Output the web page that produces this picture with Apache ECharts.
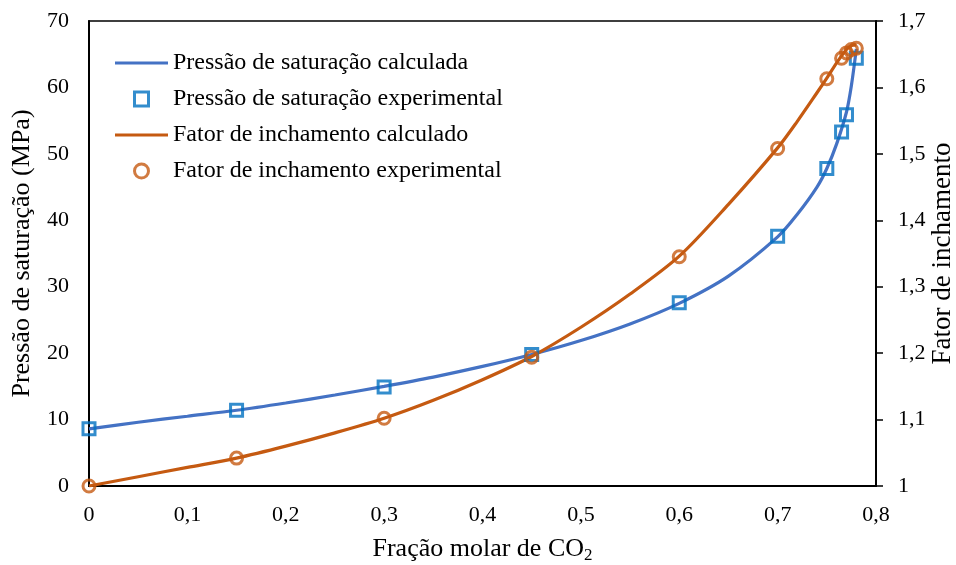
<!DOCTYPE html>
<html>
<head>
<meta charset="utf-8">
<script src="https://cdn.jsdelivr.net/npm/echarts@6/dist/echarts.min.js"></script>
<style>
  html, body { margin: 0; padding: 0; background: #fff; }
  #chart { width: 956px; height: 565px; }
</style>
</head>
<body>
<div id="chart"></div>
<script>
// Experimental points: CO2 mole fraction vs. saturation pressure (MPa)
const expPressureX = [0, 0.15, 0.3, 0.45, 0.6, 0.7, 0.75, 0.765, 0.77, 0.78];
const expPressureY = [8.6, 11.4, 14.9, 19.8, 27.6, 37.6, 47.8, 53.3, 55.9, 64.4];

// Experimental points: CO2 mole fraction vs. swelling factor
const expSwellX = [0, 0.15, 0.3, 0.45, 0.6, 0.7, 0.75, 0.765, 0.77, 0.775, 0.78];
const expSwellY = [1.0, 1.042, 1.102, 1.194, 1.345, 1.508, 1.613, 1.644, 1.652, 1.657, 1.659];

// Calculated curves
const calcPressureX = [0, 0.05, 0.1, 0.15, 0.2, 0.25, 0.3, 0.35, 0.4, 0.45, 0.5, 0.55, 0.6, 0.65, 0.7, 0.72, 0.74, 0.75, 0.76, 0.77, 0.775, 0.78];
const calcPressureY = [8.6, 9.6, 10.5, 11.4, 12.5, 13.7, 15.0, 16.4, 18.0, 19.8, 21.9, 24.4, 27.5, 31.6, 37.5, 40.9, 45.0, 47.8, 51.5, 56.3, 60.3, 65.8];

const calcSwellX = [0, 0.05, 0.1, 0.15, 0.2, 0.25, 0.3, 0.35, 0.4, 0.45, 0.5, 0.55, 0.6, 0.65, 0.7, 0.72, 0.74, 0.75, 0.76, 0.77, 0.775, 0.78];
const calcSwellY = [1.0, 1.014, 1.028, 1.042, 1.06, 1.08, 1.102, 1.129, 1.16, 1.195, 1.239, 1.289, 1.346, 1.424, 1.509, 1.549, 1.592, 1.614, 1.637, 1.657, 1.663, 1.664];

const seriesNames = [
  'Pressão de saturação calculada',
  'Pressão de saturação experimental',
  'Fator de inchamento calculado',
  'Fator de inchamento experimental'
];

const BLUE_LINE = '#4472C4';
const BLUE_MARK = '#0070C0';
const ORANGE = '#C55A11';
const FONT = 'Liberation Serif';

// Legend glyphs: a flat bar for the curves, a hollow square for the points
const LINE_ICON = 'path://M0,0L53,0L53,3L0,3Z';
const SQUARE_ICON = 'path://M0,0L10,0L10,10L0,10Z';

const zip = (xs, ys) => xs.map((x, i) => [x, ys[i]]);
const comma = (v) => {
  const r = Math.round(v * 10) / 10;
  return (Number.isInteger(r) ? String(r) : r.toFixed(1)).replace('.', ',');
};

const chart = echarts.init(document.getElementById('chart'), null, { renderer: 'canvas' });

chart.setOption({
  animation: false,
  backgroundColor: '#fff',
  textStyle: { fontFamily: FONT },
  grid: {
    left: 89, right: 80, top: 21, bottom: 79,
    outerBoundsMode: 'none', containLabel: false,
    show: true, borderColor: '#000', borderWidth: 1.5
  },
  legend: {
    orient: 'vertical',
    left: 115, top: 51, padding: 0,
    itemWidth: 53, itemHeight: 14, itemGap: 12,
    textStyle: { fontFamily: FONT, fontSize: 24, color: '#000' },
    data: [
      { name: seriesNames[0], icon: LINE_ICON, itemStyle: { color: BLUE_LINE, borderWidth: 0 } },
      { name: seriesNames[1], icon: SQUARE_ICON, itemStyle: { borderWidth: 3 } },
      { name: seriesNames[2], icon: LINE_ICON, itemStyle: { color: ORANGE, borderWidth: 0 } },
      { name: seriesNames[3], icon: 'circle', itemStyle: { borderWidth: 3 } }
    ]
  },
  xAxis: {
    type: 'value', min: 0, max: 0.8, interval: 0.1,
    name: '{a|Fração molar de CO}{s|2}',
    nameLocation: 'middle', nameGap: 49,
    nameTextStyle: {
      rich: {
        a: { fontFamily: FONT, fontSize: 26, color: '#000' },
        s: { fontFamily: FONT, fontSize: 17, color: '#000', verticalAlign: 'bottom', padding: [12, 0, 0, 0] }
      }
    },
    axisLine: { show: true, lineStyle: { color: '#000', width: 2 } },
    axisTick: { show: false },
    splitLine: { show: false },
    axisLabel: { formatter: comma, fontFamily: FONT, fontSize: 22, color: '#000', margin: 18 }
  },
  yAxis: [
    {
      type: 'value', min: 0, max: 70, interval: 10, position: 'left',
      name: 'Pressão de saturação (MPa)', nameLocation: 'middle', nameGap: 54,
      nameTextStyle: { fontFamily: FONT, fontSize: 26, color: '#000' },
      axisLine: { show: true, lineStyle: { color: '#000', width: 2 } },
      axisTick: { show: false },
      splitLine: { show: false },
      axisLabel: { fontFamily: FONT, fontSize: 22, color: '#000', margin: 20 }
    },
    {
      type: 'value', min: 1, max: 1.7, interval: 0.1, position: 'right',
      name: 'Fator de inchamento', nameLocation: 'middle', nameGap: 53,
      nameRotate: 90, nameMoveOverlap: false,
      nameTextStyle: { fontFamily: FONT, fontSize: 27, color: '#000' },
      axisLine: { show: true, lineStyle: { color: '#000', width: 2 } },
      axisTick: { show: true, inside: false, length: 7, lineStyle: { color: '#000', width: 1.5 } },
      splitLine: { show: false },
      axisLabel: { formatter: comma, fontFamily: FONT, fontSize: 22, color: '#000', margin: 22 }
    }
  ],
  series: [
    {
      name: seriesNames[0], type: 'line', yAxisIndex: 0,
      data: zip(calcPressureX, calcPressureY),
      smooth: 0.3, symbol: 'none', showSymbol: false,
      lineStyle: { color: BLUE_LINE, width: 3.2 }, itemStyle: { color: BLUE_LINE },
      z: 2
    },
    {
      name: seriesNames[1], type: 'scatter', yAxisIndex: 0,
      data: zip(expPressureX, expPressureY),
      symbol: 'rect', symbolSize: 12,
      itemStyle: { color: 'rgba(255,255,255,0)', borderColor: BLUE_MARK, borderWidth: 3 },
      z: 3
    },
    {
      name: seriesNames[2], type: 'line', yAxisIndex: 1,
      data: zip(calcSwellX, calcSwellY),
      smooth: 0.3, symbol: 'none', showSymbol: false,
      lineStyle: { color: ORANGE, width: 3.2 }, itemStyle: { color: ORANGE },
      z: 2
    },
    {
      name: seriesNames[3], type: 'scatter', yAxisIndex: 1,
      data: zip(expSwellX, expSwellY),
      symbol: 'circle', symbolSize: 12,
      itemStyle: { color: 'rgba(255,255,255,0)', borderColor: ORANGE, borderWidth: 3 },
      z: 4
    }
  ]
});
</script>
</body>
</html>
